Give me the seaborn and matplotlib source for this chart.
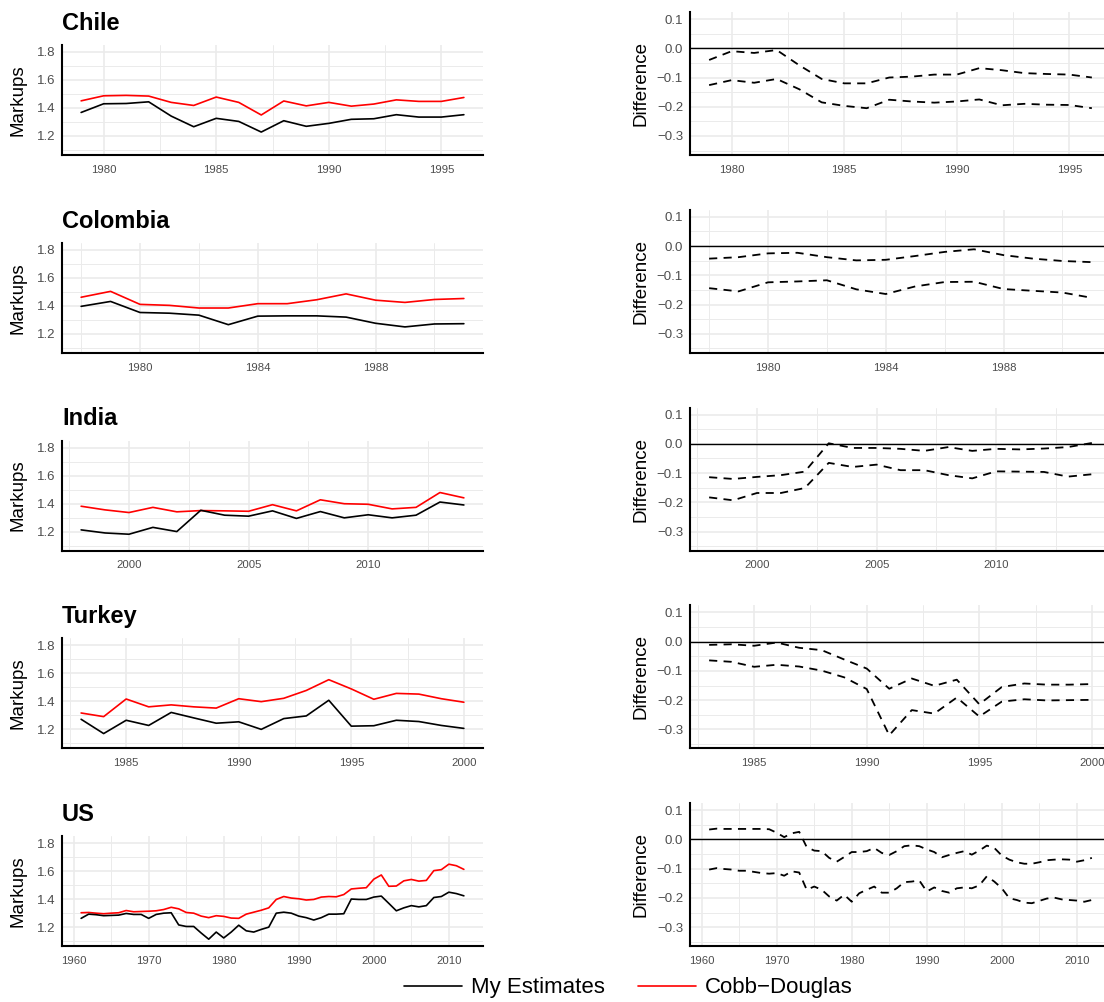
#!/usr/bin/env python3
"""Markups by country: own estimates vs Cobb-Douglas, plus difference bands."""

import matplotlib

matplotlib.use("Agg")

import matplotlib.pyplot as plt
import numpy as np
import pandas as pd
import seaborn as sns
from matplotlib.lines import Line2D
from matplotlib.ticker import AutoMinorLocator, MultipleLocator

sns.set_theme(style="whitegrid")
plt.rcParams["font.family"] = ["Liberation Sans", "DejaVu Sans"]
plt.rcParams["text.color"] = "black"
plt.rcParams["axes.labelcolor"] = "black"

# ---- data ------------------------------------------------------------------
chile_years = list(range(1979, 1997))
chile_mine = [1.368, 1.43, 1.432, 1.444, 1.342, 1.266, 1.326, 1.304, 1.228,
              1.309, 1.269, 1.29, 1.319, 1.323, 1.352, 1.335, 1.335, 1.352]
chile_cd = [1.451, 1.487, 1.49, 1.485, 1.44, 1.418, 1.478, 1.44, 1.35,
            1.45, 1.415, 1.44, 1.413, 1.428, 1.458, 1.447, 1.447, 1.475]
chile_hi = [-0.04, -0.01, -0.016, -0.006, -0.058, -0.105, -0.12, -0.12, -0.1,
            -0.097, -0.09, -0.09, -0.068, -0.075, -0.085, -0.088, -0.09, -0.1]
chile_lo = [-0.126, -0.109, -0.118, -0.105, -0.14, -0.185, -0.197, -0.205, -0.176,
            -0.182, -0.186, -0.182, -0.175, -0.195, -0.19, -0.193, -0.194, -0.205]

colombia_years = list(range(1978, 1992))
colombia_mine = [1.396, 1.431, 1.352, 1.347, 1.333, 1.265, 1.326, 1.328, 1.328,
                 1.319, 1.275, 1.249, 1.27, 1.272]
colombia_cd = [1.461, 1.503, 1.41, 1.403, 1.384, 1.384, 1.415, 1.415, 1.443,
               1.485, 1.44, 1.424, 1.445, 1.452]
colombia_hi = [-0.043, -0.038, -0.025, -0.023, -0.038, -0.049, -0.047, -0.034,
               -0.02, -0.011, -0.031, -0.043, -0.051, -0.055]
colombia_lo = [-0.144, -0.155, -0.124, -0.121, -0.117, -0.148, -0.164, -0.138,
               -0.123, -0.122, -0.147, -0.153, -0.159, -0.177]

india_years = list(range(1998, 2015))
india_mine = [1.212, 1.19, 1.181, 1.23, 1.2, 1.352, 1.317, 1.31, 1.348, 1.294,
              1.343, 1.298, 1.32, 1.298, 1.317, 1.411, 1.39]
india_cd = [1.381, 1.355, 1.336, 1.373, 1.341, 1.35, 1.348, 1.345, 1.392, 1.348,
            1.427, 1.399, 1.395, 1.362, 1.373, 1.479, 1.441]
india_hi = [-0.114, -0.12, -0.113, -0.107, -0.095, 0.002, -0.014, -0.014, -0.017,
            -0.024, -0.011, -0.024, -0.017, -0.019, -0.016, -0.011, 0.003]
india_lo = [-0.183, -0.193, -0.168, -0.168, -0.151, -0.065, -0.079, -0.071, -0.09,
            -0.09, -0.107, -0.118, -0.094, -0.095, -0.096, -0.112, -0.104]

turkey_years = list(range(1983, 2001))
turkey_mine = [1.272, 1.17, 1.265, 1.228, 1.321, 1.282, 1.244, 1.254, 1.2,
               1.277, 1.296, 1.408, 1.223, 1.226, 1.265, 1.256, 1.228, 1.207]
turkey_cd = [1.317, 1.291, 1.417, 1.361, 1.375, 1.361, 1.352, 1.419, 1.398,
             1.422, 1.478, 1.555, 1.489, 1.415, 1.457, 1.452, 1.419, 1.394]
turkey_hi = [-0.011, -0.009, -0.014, -0.003, -0.021, -0.029, -0.061, -0.092, -0.161,
             -0.126, -0.151, -0.13, -0.214, -0.155, -0.143, -0.147, -0.147, -0.145]
turkey_lo = [-0.064, -0.069, -0.086, -0.079, -0.085, -0.099, -0.122, -0.162, -0.32,
             -0.234, -0.246, -0.191, -0.256, -0.205, -0.197, -0.201, -0.2, -0.199]

us_years = list(range(1961, 2013))
us_mine = [1.263, 1.293, 1.289, 1.282, 1.284, 1.286, 1.298, 1.291, 1.291, 1.263,
           1.291, 1.3, 1.303, 1.216, 1.205, 1.205, 1.158, 1.114, 1.165, 1.123,
           1.165, 1.214, 1.174, 1.165, 1.184, 1.2, 1.3, 1.307, 1.3, 1.279,
           1.268, 1.251, 1.268, 1.293, 1.293, 1.296, 1.401, 1.398, 1.398, 1.415,
           1.422, 1.37, 1.317, 1.338, 1.354, 1.345, 1.354, 1.412, 1.419, 1.45,
           1.44, 1.424]
us_cd = [1.303, 1.305, 1.3, 1.296, 1.3, 1.303, 1.319, 1.31, 1.312, 1.314,
         1.317, 1.326, 1.342, 1.331, 1.305, 1.3, 1.279, 1.268, 1.282, 1.277,
         1.265, 1.263, 1.293, 1.307, 1.321, 1.338, 1.398, 1.419, 1.408, 1.403,
         1.394, 1.398, 1.415, 1.419, 1.417, 1.433, 1.473, 1.478, 1.482, 1.543,
         1.573, 1.492, 1.494, 1.531, 1.541, 1.529, 1.534, 1.604, 1.611, 1.65,
         1.639, 1.613]
us_hi = [0.034, 0.037, 0.036, 0.036, 0.036, 0.036, 0.036, 0.036, 0.035, 0.023,
         0.008, 0.021, 0.026, -0.026, -0.038, -0.04, -0.063, -0.076, -0.06, -0.043,
         -0.043, -0.04, -0.029, -0.046, -0.053, -0.04, -0.023, -0.02, -0.023, -0.034,
         -0.043, -0.061, -0.053, -0.046, -0.04, -0.052, -0.038, -0.021, -0.029, -0.055,
         -0.069, -0.078, -0.083, -0.083, -0.078, -0.071, -0.069, -0.068, -0.069, -0.076,
         -0.071, -0.063]
us_lo = [-0.103, -0.098, -0.101, -0.103, -0.107, -0.107, -0.111, -0.115, -0.117, -0.115,
         -0.124, -0.109, -0.113, -0.172, -0.161, -0.172, -0.195, -0.209, -0.189, -0.213,
         -0.184, -0.172, -0.161, -0.182, -0.182, -0.167, -0.146, -0.144, -0.14, -0.178,
         -0.164, -0.176, -0.182, -0.167, -0.164, -0.167, -0.157, -0.126, -0.144, -0.167,
         -0.201, -0.207, -0.216, -0.218, -0.21, -0.202, -0.199, -0.205, -0.207, -0.209,
         -0.213, -0.207]

countries = ["Chile", "Colombia", "India", "Turkey", "US"]
year_step = [5, 4, 5, 5, 10]
series = {
    "Chile": (chile_years, chile_mine, chile_cd, chile_hi, chile_lo),
    "Colombia": (colombia_years, colombia_mine, colombia_cd, colombia_hi, colombia_lo),
    "India": (india_years, india_mine, india_cd, india_hi, india_lo),
    "Turkey": (turkey_years, turkey_mine, turkey_cd, turkey_hi, turkey_lo),
    "US": (us_years, us_mine, us_cd, us_hi, us_lo),
}

# ---- figure ----------------------------------------------------------------
W, H = 1104, 1002
fig = plt.figure(figsize=(W / 100, H / 100), dpi=100)

GRID = "#EBEBEB"
TICK = "#4D4D4D"


def style_axes(ax, step, ymajor):
    ax.set_facecolor("white")
    ax.xaxis.set_major_locator(MultipleLocator(step))
    ax.xaxis.set_minor_locator(AutoMinorLocator(2))
    ax.yaxis.set_major_locator(MultipleLocator(ymajor))
    ax.yaxis.set_minor_locator(AutoMinorLocator(2))
    ax.grid(True, which="major", color=GRID, lw=1.2)
    ax.grid(True, which="minor", color=GRID, lw=0.7)
    ax.set_axisbelow(True)
    for side in ["top", "right"]:
        ax.spines[side].set_visible(False)
    for side in ["left", "bottom"]:
        ax.spines[side].set_visible(True)
        ax.spines[side].set_color("black")
        ax.spines[side].set_linewidth(1.5)
    ax.tick_params(which="both", length=0)
    ax.tick_params(axis="x", labelsize=8.2, labelcolor=TICK, pad=7)
    ax.tick_params(axis="y", labelsize=9.5, labelcolor=TICK, pad=5)
    ax.set_xlabel("")


for i, name in enumerate(countries):
    years, mine, cd, hi, lo = series[name]
    step = year_step[i]

    # left: markups
    bottom = 155 + 197.8 * i
    axl = fig.add_axes([62 / W, 1 - bottom / H, 421 / W, 110 / H])
    df = pd.DataFrame({"year": years, "My Estimates": mine, "Cobb-Douglas": cd})
    sns.lineplot(data=df, x="year", y="Cobb-Douglas", color="#FF0000", lw=1.2, ax=axl)
    sns.lineplot(data=df, x="year", y="My Estimates", color="black", lw=1.2, ax=axl)
    axl.margins(x=0.05)
    axl.set_ylim(1.064, 1.85)
    style_axes(axl, step, 0.2)
    axl.set_yticks([1.2, 1.4, 1.6, 1.8])
    axl.set_yticklabels(["1.2", "1.4", "1.6", "1.8"])
    axl.set_ylabel("Markups", fontsize=13.5, labelpad=7, color="black")
    axl.set_title(name, loc="left", fontsize=17, fontweight="bold", pad=11,
                  color="black")

    # right: difference band
    axr = fig.add_axes([690 / W, 1 - bottom / H, 421 / W, 143 / H])
    dd = pd.DataFrame({"year": years, "hi": hi, "lo": lo})
    axr.axhline(0, color="black", lw=1.0, zorder=1)
    for col in ["hi", "lo"]:
        sns.lineplot(data=dd, x="year", y=col, color="black", lw=1.3,
                     dashes=False, ax=axr)
    for ln in axr.get_lines()[1:]:
        ln.set_dashes((4.5, 3.5))
    axr.margins(x=0.05)
    axr.set_ylim(-0.365, 0.124)
    style_axes(axr, step, 0.1)
    axr.set_yticks([0.1, 0.0, -0.1, -0.2, -0.3])
    axr.set_yticklabels(["0.1", "0.0", "\u22120.1", "\u22120.2", "\u22120.3"])
    axr.set_ylabel("Difference", fontsize=13.5, labelpad=5, color="black")

handles = [
    Line2D([0], [0], color="black", lw=1.2, label="My Estimates"),
    Line2D([0], [0], color="#FF0000", lw=1.2, label="Cobb\u2212Douglas"),
]
fig.legend(handles=handles, loc="center", bbox_to_anchor=(628 / W, 1 - 988 / H),
           ncol=2, frameon=False, fontsize=16, handlelength=2.6,
           handletextpad=0.4, columnspacing=1.5, labelcolor="black")

fig.savefig("out.png", dpi=100, facecolor="white")
